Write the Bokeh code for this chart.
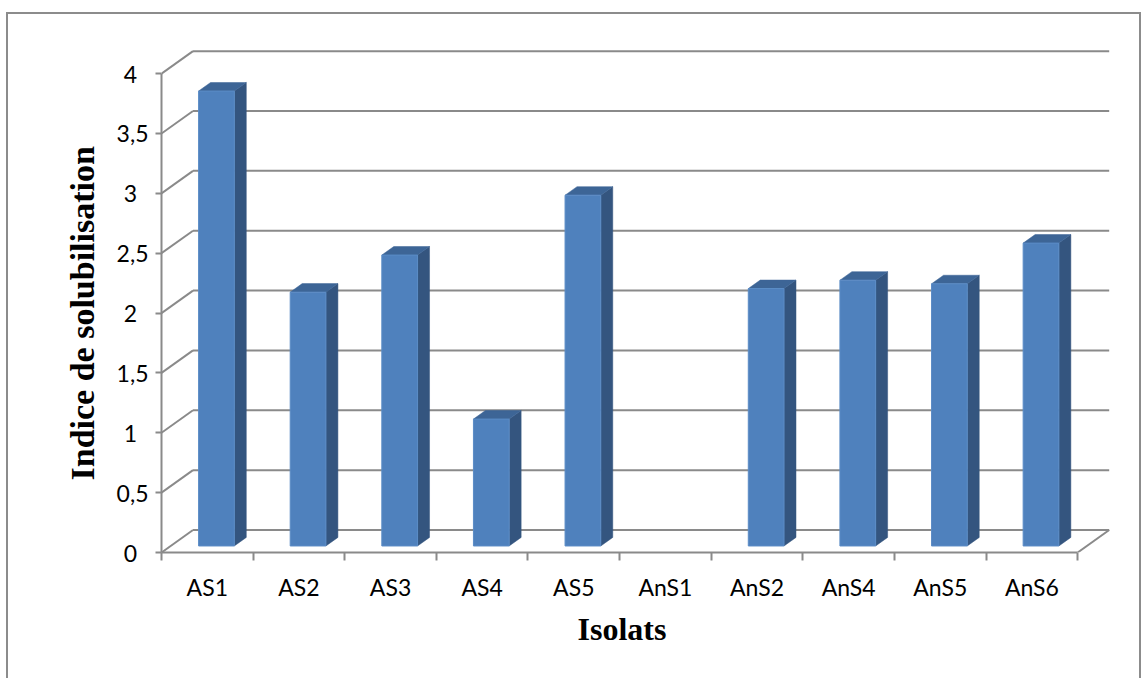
from bokeh.plotting import figure
from bokeh.models import Range1d, FixedTicker, CustomJSTickFormatter, Title
from bokeh.embed import file_html
from bokeh.resources import INLINE

# Solubilisation index per isolate
categories = ["AS1", "AS2", "AS3", "AS4", "AS5", "AnS1", "AnS2", "AnS4", "AnS5", "AnS6"]
values = [3.8, 2.12, 2.43, 1.06, 2.93, 0.0, 2.15, 2.22, 2.19, 2.53]
y_ticks = [0, 0.5, 1, 1.5, 2, 2.5, 3, 3.5, 4]

# Oblique "3-D" geometry, in data units
DX, DY = 0.344, 0.188        # depth of the floor / walls
BAR_W = 0.39                 # bar width, in category widths
F0, F1 = 0.29, 0.67          # front and back of each bar, as fractions of the depth

GRID = "#8a8a8a"
FRONT, SIDE, TOP = "#4f81bd", "#34557f", "#3d6596"

n = len(categories)
p = figure(width=1146, height=678, output_backend="svg", toolbar_location=None,
           x_range=Range1d(0, n + DX + 0.036), y_range=Range1d(0, 4 + DY + 0.022),
           min_border_left=161, min_border_right=34, min_border_top=48,
           min_border_bottom=126)
p.xgrid.visible = False
p.ygrid.visible = False
p.outline_line_color = None
p.background_fill_color = "white"
p.border_fill_color = None

# thin grey frame around the whole chart area
line = "linear-gradient(#8c8c8c, #8c8c8c)"
p.styles = {
    "background": (f"{line} 6px 12px / 2px 700px no-repeat, "
                   f"{line} 6px 12px / 1135px 2px no-repeat, "
                   f"{line} 1139px 12px / 2px 700px no-repeat, white"),
}

# walls and floor
xs, ys = [], []
for v in y_ticks:
    xs.append([0, DX]); ys.append([v, v + DY])                 # left wall
    xs.append([DX, n + DX]); ys.append([v + DY, v + DY])       # back wall
xs.append([n, n + DX]); ys.append([0, DY])                     # floor, right edge
p.multi_line(xs, ys, line_color=GRID, line_width=2)

# bars: front face, side face, top face
fl, fr, fb, ft = [], [], [], []
side_x, side_y, top_x, top_y = [], [], [], []
ddx, ddy = (F1 - F0) * DX, (F1 - F0) * DY
for i, v in enumerate(values):
    if v <= 0:
        continue
    left = i + 0.5 - BAR_W / 2 + F0 * DX
    right = left + BAR_W
    bottom = F0 * DY
    top = v + F0 * DY
    fl.append(left); fr.append(right); fb.append(bottom); ft.append(top)
    side_x.append([right, right + ddx, right + ddx, right])
    side_y.append([bottom, bottom + ddy, top + ddy, top])
    top_x.append([left, right, right + ddx, left + ddx])
    top_y.append([top, top, top + ddy, top + ddy])

p.patches(side_x, side_y, fill_color=SIDE, line_color=SIDE, line_width=0.5)
p.patches(top_x, top_y, fill_color=TOP, line_color=TOP, line_width=0.5)
p.quad(left=fl, right=fr, bottom=fb, top=ft, fill_color=FRONT,
       line_color="#5b8cc6", line_width=1)

# y axis (front plane); single-digit labels padded so they sit like the others
ya = p.yaxis[0]
ya.ticker = FixedTicker(ticks=y_ticks)
ya.formatter = CustomJSTickFormatter(
    code="const s = tick.toString().replace('.', ','); return s.length == 1 ? s + '\\u2002' : s;")
ya.bounds = (0, 4)
ya.axis_line_color = GRID
ya.axis_line_width = 2
ya.major_tick_line_color = GRID
ya.major_tick_line_width = 2
ya.major_tick_out = 6
ya.major_tick_in = 0
ya.minor_tick_line_color = None
ya.major_label_standoff = 7
ya.major_label_text_font = "Lato"
ya.major_label_text_font_size = "23px"
ya.major_label_text_color = "black"

# x axis: boundary ticks, labels centred on each category
xa = p.xaxis[0]
xa.ticker = FixedTicker(ticks=[i + 0.5 for i in range(n)],
                        minor_ticks=list(range(n + 1)))
xa.formatter = CustomJSTickFormatter(args=dict(labels=categories),
                                     code="return labels[Math.floor(tick)];")
xa.bounds = (0, n)
xa.axis_line_color = GRID
xa.axis_line_width = 2
xa.major_tick_out = 0
xa.major_tick_in = 0
xa.minor_tick_line_color = GRID
xa.minor_tick_line_width = 2
xa.minor_tick_out = 8
xa.minor_tick_in = 0
xa.major_label_standoff = 12
xa.major_label_text_font = "Lato"
xa.major_label_text_font_size = "23px"
xa.major_label_text_color = "black"

# axis titles
p.add_layout(Title(text="Indice de solubilisation", align="left", offset=72,
                   standoff=25, text_font="Liberation Serif", text_font_style="bold",
                   text_font_size="34px", text_color="black"), "left")
p.add_layout(Title(text="Isolats", align="left", offset=416, standoff=10,
                   text_font="Liberation Serif", text_font_style="bold",
                   text_font_size="32px", text_color="black"), "below")

open("out.html", "w").write(file_html(p, INLINE))
